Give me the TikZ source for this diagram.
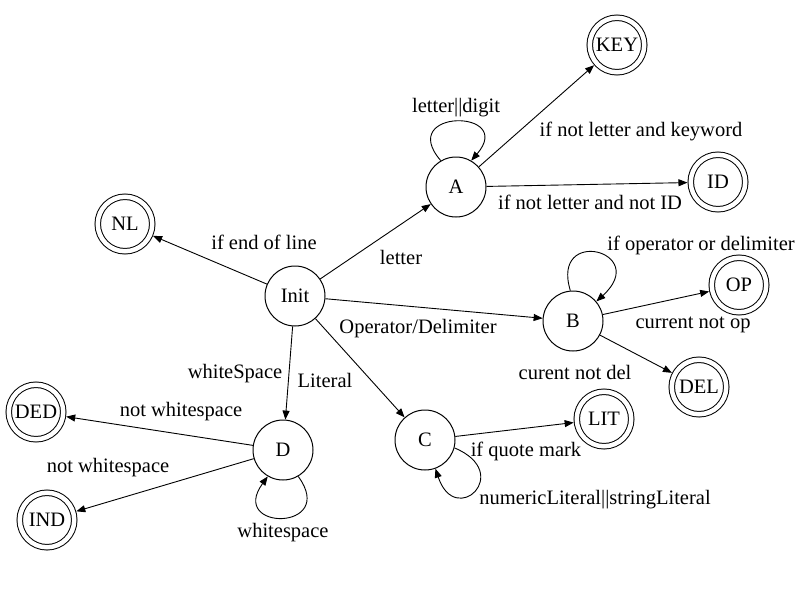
\documentclass[tikz,border=0pt]{standalone}
\usepackage{fontspec}
\setmainfont{Liberation Serif}
\usetikzlibrary{arrows.meta}
\begin{document}
\begin{tikzpicture}[x=1pt,y=-1pt,
 every node/.style={font=\fontsize{20.5}{24}\selectfont},
 st/.style={circle,draw,line width=1pt,minimum size=60pt,inner sep=0pt},
 acc/.style={circle,draw,line width=1pt,double,double distance=4.5pt,minimum size=54.5pt,inner sep=0pt,outer sep=3.3pt},
 lbl/.style={inner sep=0pt},
 arr/.style={line width=0.9pt,-{Triangle[length=9pt,width=7pt]}}]
\useasboundingbox (0,0) rectangle (800,600);
% states
\node[st] (init) at (295,296) {Init};
\node[st] (A) at (456,187) {A};
\node[st] (B) at (573,321) {B};
\node[st] (C) at (425,440) {C};
\node[st] (D) at (283,450) {D};
% accepting states
\node[acc] (KEY) at (617,45) {KEY};
\node[acc] (ID) at (718,182) {ID};
\node[acc] (NL) at (125,224) {NL};
\node[acc] (OP) at (739,285) {OP};
\node[acc] (DEL) at (699,387) {DEL};
\node[acc] (LIT) at (604,419) {LIT};
\node[acc] (DED) at (36,412) {DED};
\node[acc] (IND) at (47,520) {IND};
% transitions
\draw[arr] (init) -- (A);
\draw[arr] (init) -- (NL);
\draw[arr] (init) -- (B);
\draw[arr] (init) -- (C);
\draw[arr] (init) -- (D);
\draw[arr] (A) -- (KEY);
\draw[arr] (A) -- (ID);
\draw[arr] (B) -- (OP);
\draw[arr] (B) -- (DEL);
\draw[arr] (C) -- (LIT);
\draw[arr] (D) -- (DED);
\draw[arr] (D) -- (IND);
% loops
\draw[arr] (A.120) .. controls +(-45,-52) and +(45,-52) .. (A.60);
\draw[arr] (B.95) .. controls +(-20,-65) and +(55,-50) .. (B.40);
\draw[arr] (C.-15) .. controls +(60,25) and +(20,60) .. (C.-70);
\draw[arr] (D.-60) .. controls +(40,55) and +(-40,55) .. (D.-120);
% labels
\node[lbl] (l1) at (456,108) {letter||digit};
\node[lbl] (l2) at (641,131) {if not letter and keyword};
\node[lbl] (l3) at (590,202) {if not letter and not ID};
\node[lbl] (l4) at (264,242) {if end of line};
\node[lbl] (l5) at (401,257) {letter};
\node[lbl] (l6) at (701,245) {if operator or delimiter};
\node[lbl] (l7) at (693,325) {current not op};
\node[lbl] (l8) at (418,329) {Operator/Delimiter};
\node[lbl] (l9) at (575,372) {curent not del};
\node[lbl] (l10) at (235,374) {whiteSpace};
\node[lbl] (l11) at (325,380) {Literal};
\node[lbl] (l12) at (181,412) {not whitespace};
\node[lbl] (l13) at (108,468) {not whitespace};
\node[lbl] (l14) at (526,451) {if quote mark};
\node[lbl] (l15) at (595,500) {numericLiteral||stringLiteral};
\node[lbl] (l16) at (283,533) {whitespace};
\end{tikzpicture}
\end{document}
